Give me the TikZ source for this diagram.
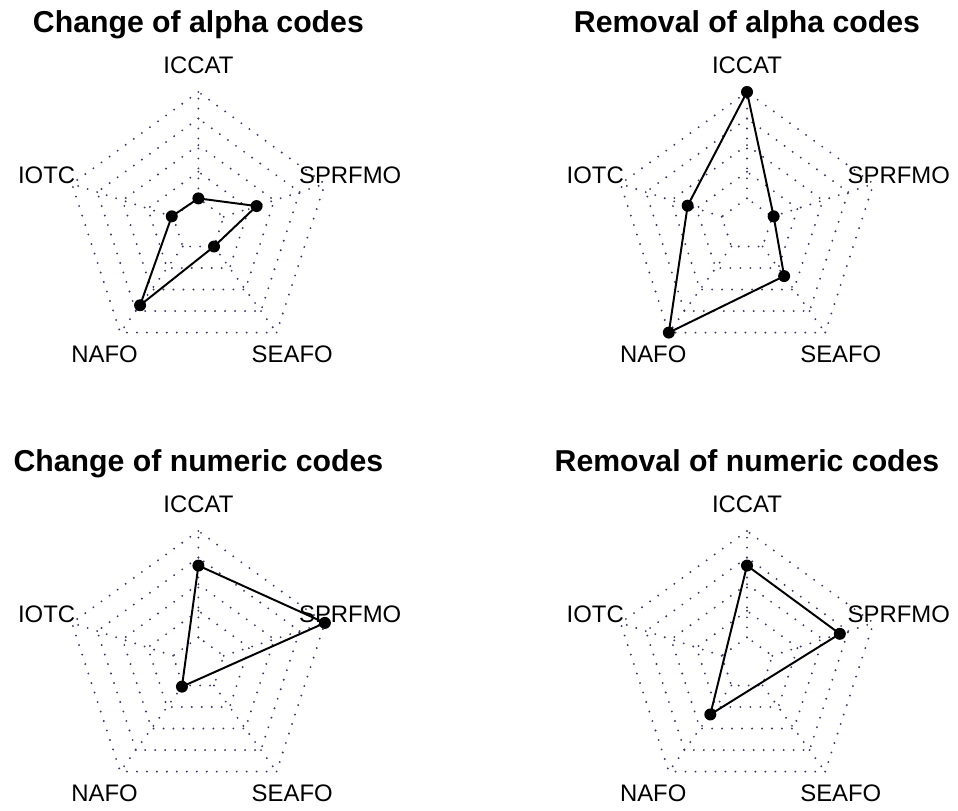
\documentclass[tikz,border=0pt]{standalone}
\usepackage{fontspec}
\setmainfont{Liberation Sans}
\usetikzlibrary{calc}

\definecolor{gridnavy}{RGB}{55,55,105}
\tikzset{
  gridline/.style={draw=gridnavy, line width=1.5pt, line cap=round, dash pattern=on 0pt off 7.1pt},
  axislabel/.style={inner sep=0pt, font=\fontsize{17}{20}\selectfont},
  charttitle/.style={anchor=base, inner sep=0pt, font=\fontsize{21.5}{25}\selectfont\bfseries},
  datapoint/.style={circle, fill=black, inner sep=0pt, minimum size=0.3cm},
  dataline/.style={draw=black, line width=1.4pt}
}

\begin{document}
\begin{tikzpicture}
\useasboundingbox (0,0) rectangle (23.95,20.275);
% grid, axis labels and titles
\foreach \cx/\cy/\ttl/\id in {4.96/14.65/{Change of alpha codes}/ca, 18.675/14.65/{Removal of alpha codes}/ra, 4.96/3.675/{Change of numeric codes}/cn, 18.675/3.675/{Removal of numeric codes}/rn}{
  \begin{scope}[shift={(\cx,\cy)}]
  \foreach \k in {1,...,5}
    \draw[gridline] (90:{0.665*\k}) -- (162:{0.665*\k}) -- (234:{0.665*\k}) -- (306:{0.665*\k}) -- (18:{0.665*\k}) -- cycle;
  \foreach \a in {90,162,234,306,18}
    \draw[gridline] (\a:0.665) -- (\a:3.325);
  \node[charttitle] (\id-title) at (0,4.8) {\ttl};
  \node[axislabel] (\id-iccat) at (90:3.99) {ICCAT};
  \node[axislabel] (\id-iotc) at (162:3.99) {IOTC};
  \node[axislabel] (\id-nafo) at (234:3.99) {NAFO};
  \node[axislabel] (\id-seafo) at (306:3.99) {SEAFO};
  \node[axislabel] (\id-sprfmo) at (18:3.99) {SPRFMO};
  \end{scope}
}

% change of alpha codes
\begin{scope}[shift={(4.96,14.65)}]
\node[datapoint] (ca-v1) at (90:0.665) {};
\node[datapoint] (ca-v2) at (162:0.70) {};
\node[datapoint] (ca-v3) at (234:2.48) {};
\node[datapoint] (ca-v4) at (306:0.665) {};
\node[datapoint] (ca-v5) at (18:1.53) {};
\draw[dataline] (ca-v1.center) -- (ca-v2.center) -- (ca-v3.center) -- (ca-v4.center) -- (ca-v5.center) -- cycle;
\end{scope}

% removal of alpha codes
\begin{scope}[shift={(18.675,14.65)}]
\node[datapoint] (ra-v1) at (90:3.325) {};
\node[datapoint] (ra-v2) at (162:1.56) {};
\node[datapoint] (ra-v3) at (234:3.325) {};
\node[datapoint] (ra-v4) at (306:1.58) {};
\node[datapoint] (ra-v5) at (18:0.70) {};
\draw[dataline] (ra-v1.center) -- (ra-v2.center) -- (ra-v3.center) -- (ra-v4.center) -- (ra-v5.center) -- cycle;
\end{scope}

% change of numeric codes
\begin{scope}[shift={(4.96,3.675)}]
\node[datapoint] (cn-v1) at (90:2.46) {};
\node[datapoint] (cn-v3) at (234:0.70) {};
\node[datapoint] (cn-v5) at (18:3.325) {};
\draw[dataline] (cn-v1.center) -- (cn-v5.center) -- (cn-v3.center) -- cycle;
\end{scope}

% removal of numeric codes
\begin{scope}[shift={(18.675,3.675)}]
\node[datapoint] (rn-v1) at (90:2.46) {};
\node[datapoint] (rn-v3) at (234:1.56) {};
\node[datapoint] (rn-v5) at (18:2.44) {};
\draw[dataline] (rn-v1.center) -- (rn-v5.center) -- (rn-v3.center) -- cycle;
\end{scope}
\end{tikzpicture}
\end{document}
